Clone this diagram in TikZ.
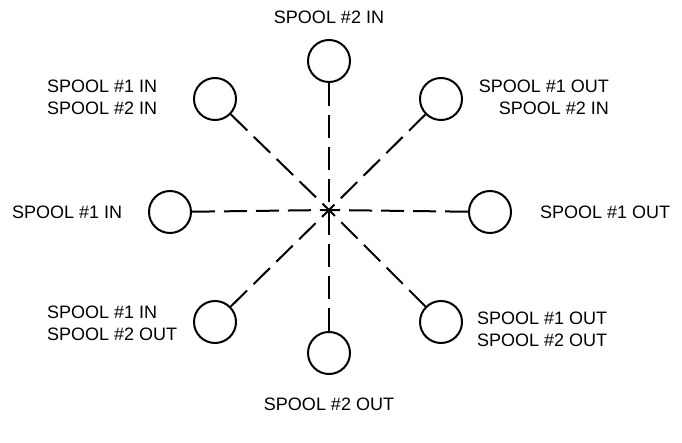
\documentclass[tikz,border=0pt]{standalone}
\usepackage{fontspec}
\setmainfont{Liberation Sans}
\begin{document}
\begin{tikzpicture}[x=1pt,y=-1pt,
  port/.style={circle,draw,line width=2pt,minimum size=42pt,inner sep=0pt},
  link/.style={line width=2pt,dash pattern=on 23pt off 9pt},
  lbl/.style={font=\fontsize{18}{22}\selectfont,inner sep=0pt}]
\useasboundingbox (0,0) rectangle (682,443);
\coordinate (c) at (329,210);
\node[port] (t) at (329,61) {};
\node[port] (b) at (329,353) {};
\node[port] (l) at (170,212) {};
\node[port] (r) at (490,212) {};
\node[port] (tl) at (215,99) {};
\node[port] (tr) at (441,99) {};
\node[port] (bl) at (215,322) {};
\node[port] (br) at (441,322) {};
\foreach \n in {t,b,l,r,tl,tr,bl,br} \draw[link] (\n) -- (c);
\node[lbl] (tlab) at (329,17) {SPOOL \#2 IN};
\node[lbl] (blab) at (329,404) {SPOOL \#2 OUT};
\node[lbl,anchor=west] (llab) at (12,212) {SPOOL \#1 IN};
\node[lbl,anchor=west] (rlab) at (540,212) {SPOOL \#1 OUT};
\node[lbl,anchor=west,align=left] (tllab) at (47,97) {SPOOL \#1 IN\\SPOOL \#2 IN};
\node[lbl,anchor=east,align=right] (trlab) at (609,97) {SPOOL \#1 OUT\\SPOOL \#2 IN};
\node[lbl,anchor=west,align=left] (bllab) at (47,323) {SPOOL \#1 IN\\SPOOL \#2 OUT};
\node[lbl,anchor=west,align=left] (brlab) at (477,329) {SPOOL \#1 OUT\\SPOOL \#2 OUT};
\end{tikzpicture}
\end{document}
